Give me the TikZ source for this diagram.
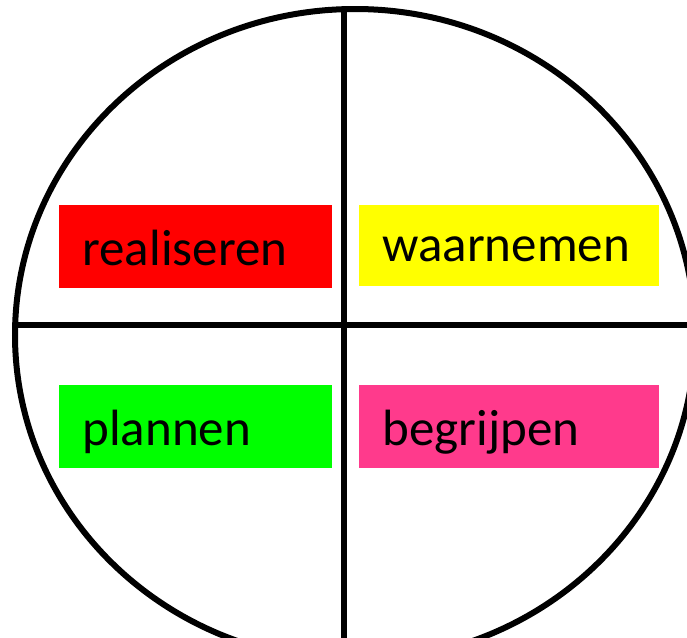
\documentclass[tikz,border=0pt]{standalone}
\usepackage{fontspec}
\setmainfont{Carlito}
\usepackage{xcolor}
\definecolor{colRed}{HTML}{FF0000}
\definecolor{colYellow}{HTML}{FFFF00}
\definecolor{colGreen}{HTML}{00FF00}
\definecolor{colPink}{HTML}{FF3A8C}
\usepackage{tikz}
\usetikzlibrary{positioning}

\tikzset{
    rim/.style={line width=3pt, black},
    tagbox/.style={anchor=north west, inner xsep=11.5pt, inner ysep=0pt,
        align=left, font=\fontsize{25.5}{30}\selectfont},
    smallbox/.style={tagbox, text width=113.5pt, text height=30pt, text depth=11.5pt},
    widebox/.style={tagbox, text width=127pt},
}

\begin{document}
\begin{tikzpicture}[x=0.5pt, y=-0.5pt]
        % Rand
        \useasboundingbox (0,0) rectangle (687,638);
        \clip (0,0) rectangle (687,638);
        \fill[white] (0,0) rectangle (687,638);
        % Cirkel en kruis
        \coordinate (mid) at (355,335);
        \coordinate (top) at (344,9);
        \coordinate (bottom) at (344,640);
        \coordinate (left) at (15,325);
        \coordinate (right) at (690,325);
        \draw[rim] (mid) ellipse [x radius=170pt, y radius=163pt];
        \draw[rim] (top) -- (bottom);
        \draw[rim] (left) -- (right);
        % Kwadranten
        \node[smallbox, fill=colRed] (realiseren) at (59,205) {realiseren};
        \node[widebox, fill=colYellow, text height=28pt, text depth=12.5pt] (waarnemen) at (359,205) {waarnemen};
        \node[smallbox, fill=colGreen] (plannen) at (59,385) {plannen};
        \node[widebox, fill=colPink, text height=30pt, text depth=11.5pt] (begrijpen) at (359,385) {begrijpen};
    \end{tikzpicture}
\end{document}
